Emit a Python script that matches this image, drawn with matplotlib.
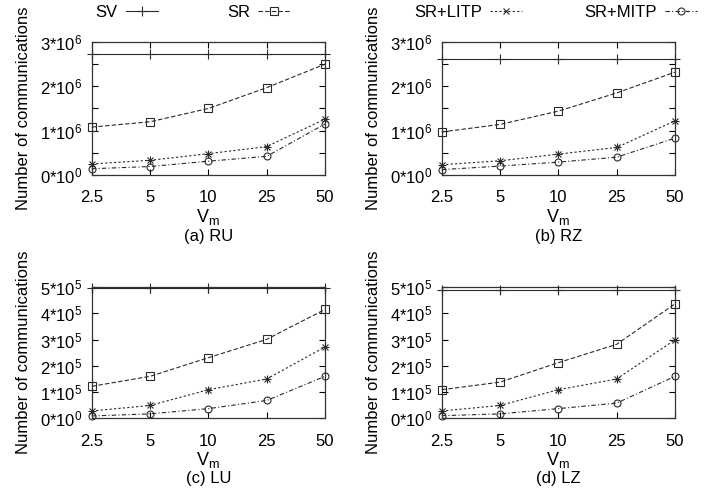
import matplotlib
matplotlib.use("Agg")
import matplotlib.pyplot as plt
from matplotlib.lines import Line2D

plt.rcParams['font.family'] = ['Liberation Sans', 'DejaVu Sans']
plt.rcParams['mathtext.fontset'] = 'custom'
plt.rcParams['mathtext.rm'] = 'Liberation Sans'
plt.rcParams['mathtext.it'] = 'Liberation Sans'
plt.rcParams['font.size'] = 12

# dados
vm_labels = ['2.5', '5', '10', '25', '50']
nomes = ['SV', 'SR', 'SR+LITP', 'SR+MITP']

ru_sv = [2.73e6, 2.73e6, 2.73e6, 2.73e6, 2.73e6]
ru_sr = [1.08e6, 1.20e6, 1.50e6, 1.97e6, 2.50e6]
ru_litp = [0.25e6, 0.33e6, 0.48e6, 0.64e6, 1.26e6]
ru_mitp = [0.14e6, 0.19e6, 0.31e6, 0.42e6, 1.15e6]

rz_sv = [2.61e6, 2.61e6, 2.61e6, 2.61e6, 2.61e6]
rz_sr = [0.97e6, 1.14e6, 1.44e6, 1.85e6, 2.32e6]
rz_litp = [0.23e6, 0.32e6, 0.47e6, 0.62e6, 1.22e6]
rz_mitp = [0.12e6, 0.20e6, 0.29e6, 0.40e6, 0.83e6]

lu_sv = [4.98e5, 4.98e5, 4.98e5, 4.98e5, 4.98e5]
lu_sr = [1.22e5, 1.60e5, 2.31e5, 3.01e5, 4.15e5]
lu_litp = [0.28e5, 0.49e5, 1.09e5, 1.50e5, 2.72e5]
lu_mitp = [0.09e5, 0.17e5, 0.37e5, 0.68e5, 1.60e5]

lz_sv = [4.88e5, 4.88e5, 4.88e5, 4.88e5, 4.88e5]
lz_sr = [1.09e5, 1.38e5, 2.12e5, 2.82e5, 4.36e5]
lz_litp = [0.28e5, 0.49e5, 1.09e5, 1.50e5, 2.99e5]
lz_mitp = [0.10e5, 0.17e5, 0.37e5, 0.58e5, 1.60e5]

ticks_6 = [0, 1e6, 2e6, 3e6]
labels_6 = ['0*10$^{0}$', '1*10$^{6}$', '2*10$^{6}$', '3*10$^{6}$']
ticks_5 = [0, 1e5, 2e5, 3e5, 4e5, 5e5]
labels_5 = ['0*10$^{0}$', '1*10$^{5}$', '2*10$^{5}$', '3*10$^{5}$', '4*10$^{5}$', '5*10$^{5}$']

cor = '#2a2a2a'
estilos = {
    'SV': dict(linestyle='-', marker='+', markersize=7),
    'SR': dict(linestyle=(0, (4, 2)), marker='s', markersize=5.5),
    'SR+LITP': dict(linestyle=(0, (2, 2)), marker='x', markersize=4.5),
    'SR+MITP': dict(linestyle=(0, (4, 2, 1, 2)), marker='o', markersize=5),
}

fig = plt.figure(figsize=(7.23, 4.97), dpi=100)

paineis = [
    ([0.127, 0.648, 0.3225, 0.2675], (ru_sv, ru_sr, ru_litp, ru_mitp), ticks_6, labels_6, 3e6, '(a) RU'),
    ([0.611, 0.648, 0.3225, 0.2675], (rz_sv, rz_sr, rz_litp, rz_mitp), ticks_6, labels_6, 3e6, '(b) RZ'),
    ([0.127, 0.1583, 0.3225, 0.264], (lu_sv, lu_sr, lu_litp, lu_mitp), ticks_5, labels_5, 5e5, '(c) LU'),
    ([0.611, 0.1583, 0.3225, 0.264], (lz_sv, lz_sr, lz_litp, lz_mitp), ticks_5, labels_5, 5e5, '(d) LZ'),
]

x = list(range(len(vm_labels)))
for pos, series, yt, yl, ymax, titulo in paineis:
    ax = fig.add_axes(pos)
    for nome, ys in zip(nomes, series):
        ax.plot(x, ys, lw=0.8, color=cor, markerfacecolor='none', markeredgewidth=0.8,
                clip_on=False, zorder=3, **estilos[nome])
        if nome == 'SR+LITP':
            # asterisco = x + +
            ax.plot(x, ys, lw=0, marker='+', markersize=6, markeredgewidth=0.8,
                    color=cor, clip_on=False, zorder=3)
    ax.set_xlim(0, 4)
    ax.set_ylim(0, ymax)
    ax.set_xticks(x)
    ax.set_xticklabels(vm_labels)
    ax.set_yticks(yt)
    ax.set_yticklabels(yl)
    if ymax == 3e6:
        ax.set_yticks([0.5e6, 1.5e6, 2.5e6], minor=True)
    ax.tick_params(axis='x', direction='in', top=True, length=4, width=0.8, pad=11)
    ax.tick_params(axis='y', direction='in', right=True, length=4, width=0.8, pad=7)
    ax.tick_params(which='minor', direction='in', right=True, length=4, width=0.8)
    for s in ax.spines.values():
        s.set_linewidth(0.9)
        s.set_color('#333333')
    ax.set_ylabel('Number of communications', labelpad=6)
    ax.set_xlabel('V$_{m}$', labelpad=1, fontsize=13)
    ax.text(0.5, -0.46, titulo, transform=ax.transAxes, ha='center', va='center')

# legenda: uma caixa por serie
leg_x = [0.132, 0.314, 0.573, 0.808]
for nome, lx in zip(nomes, leg_x):
    h = Line2D([], [], lw=0.8, color=cor, markerfacecolor='none', markeredgewidth=0.8,
               **estilos[nome])
    leg = fig.legend([h], [nome], loc='center left', bbox_to_anchor=(lx, 0.975),
                     frameon=False, markerfirst=False, numpoints=1, borderpad=0,
                     borderaxespad=0, handlelength=1.9, handletextpad=0.5, fontsize=12)

plt.savefig('out.png', dpi=100)
